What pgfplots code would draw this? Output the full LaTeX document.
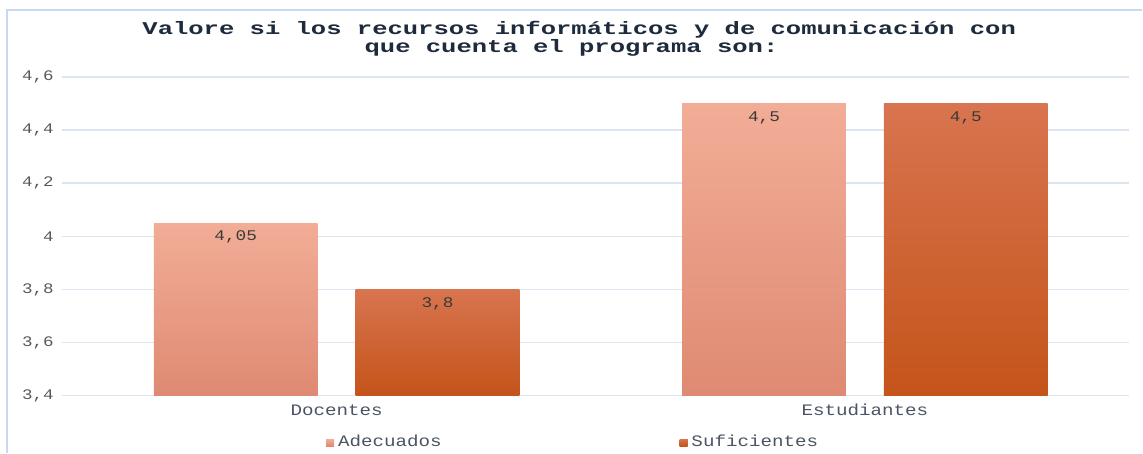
\documentclass[border=0pt]{standalone}
\usepackage{fontspec}
\usepackage{pgfplots}
\pgfplotsset{compat=1.18}
\newfontfamily\cmono[FakeStretch=1.2]{Liberation Mono}
\newfontfamily\tmono[FakeStretch=1.42]{Liberation Mono}
\definecolor{adeT}{HTML}{F2AD97}
\definecolor{adeM}{HTML}{F2A085}
\definecolor{adeB}{HTML}{DF8A72}
\definecolor{sufT}{HTML}{D8744F}
\definecolor{sufM}{HTML}{D5611F}
\definecolor{sufB}{HTML}{C4541A}
\definecolor{gridc}{HTML}{DCE5F0}
\definecolor{framec}{HTML}{C6D9F1}
\definecolor{titlec}{HTML}{1E2B3C}
\definecolor{tickc}{HTML}{595959}
\definecolor{catc}{HTML}{4A5563}
\definecolor{labc}{HTML}{3A3A3A}
\pgfplotsset{
  ade/.style={draw=none, bar shift=-50.5pt, top color=adeT, middle color=adeM, bottom color=adeB,
    legend image code/.code={\fill[adeM] (0pt,-1.75pt) rectangle (4pt,1.75pt);}},
  suf/.style={draw=none, bar shift=50.5pt, top color=sufT, middle color=sufM, bottom color=sufB,
    legend image code/.code={\fill[sufM] (0pt,-1.75pt) rectangle (4pt,1.75pt);}},
}
\begin{document}
\begin{tikzpicture}
\path (-31pt,-28.5pt) rectangle (540.5pt,198pt);
\draw[framec, line width=1pt] (-27.5pt,-28.5pt) -- (-27.5pt,193pt) -- (540.5pt,193pt);
\begin{axis}[
  at={(0pt,0pt)}, anchor=south west,
  scale only axis, width=534pt, height=159.5pt,
  xmin=-0.52, xmax=1.5, ymin=3.4, ymax=4.6,
  ybar=19pt, bar width=82pt,
  xtick={0,1}, xticklabels={Docentes,Estudiantes},
  ytick={3.4,3.6,3.8,4,4.2,4.4,4.6},
  major tick length=0pt,
  axis line style={draw=none},
  ymajorgrids, grid style={draw=gridc, line width=0.8pt},
  /pgf/number format/.cd, use comma, assume math mode=true, /pgfplots/.cd,
  yticklabel style={font=\cmono\fontsize{7.3}{8}\selectfont, text=tickc, inner sep=0pt, xshift=-4pt},
  xticklabel style={font=\cmono\fontsize{8}{9}\selectfont, text=catc, anchor=base, inner sep=0pt, yshift=-10pt},
  nodes near coords,
  nodes near coords style={font=\cmono\fontsize{7.4}{8}\selectfont, text=labc, anchor=center, yshift=-7pt},
  legend columns=2,
  legend style={draw=none, fill=none, at={(0.2472,-0.147)}, anchor=west,
    font=\cmono\fontsize{8}{9}\selectfont, text=catc, inner sep=0pt,
    /tikz/every even column/.append style={column sep=117pt}},
]
% Adecuados: Docentes 4.05, Estudiantes 4.5
% Suficientes: Docentes 3.8, Estudiantes 4.5
\addplot[ade] coordinates {(0,4.05)};
\addlegendentry{Adecuados}
\addplot[suf] coordinates {(0,3.8)};
\addlegendentry{Suficientes}
\addplot[ade, forget plot] coordinates {(1,4.5)};
\addplot[suf, forget plot] coordinates {(1,4.5)};
\end{axis}
\node[anchor=base, font=\tmono\bfseries\fontsize{9}{9}\selectfont, text=titlec, inner sep=0pt] at (258.85pt,180.5pt) {Valore si los recursos informáticos y de comunicación con};
\node[anchor=base, font=\tmono\bfseries\fontsize{9}{9}\selectfont, text=titlec, inner sep=0pt] at (255pt,171.5pt) {que cuenta el programa son:};
\end{tikzpicture}
\end{document}
